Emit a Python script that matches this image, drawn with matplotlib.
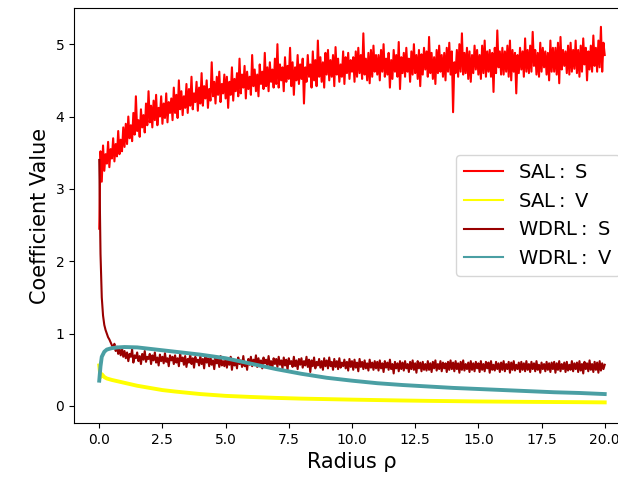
import numpy as np
import matplotlib.pyplot as plt

# radius grid of the noisy S curves (step 0.05)
rho_s = np.round(np.arange(0, 20.001, 0.05), 2)
# radius grid of the smooth V curves
rho_v = [0, 0.05, 0.1, 0.2, 0.3, 0.5, 0.75, 1, 1.5, 2, 2.5, 3, 4, 5, 6, 7,
         8, 9, 10, 11, 12, 13, 14, 15, 16, 17, 18, 19, 20]

# one row = one unit of radius
sal_s = [2.45, 3.52, 3.10, 3.60, 3.25, 3.48, 3.35, 3.65, 3.30, 3.55, 3.42, 3.70, 3.38, 3.62, 3.45, 3.80, 3.48, 3.68, 3.52, 3.85,
         3.58, 3.90, 3.62, 4.00, 3.70, 3.88, 3.66, 4.05, 3.75, 4.28, 3.80, 3.95, 3.72, 4.10, 3.85, 4.02, 3.78, 4.18, 3.88, 4.35,
         3.92, 4.15, 3.85, 4.22, 3.95, 4.30, 3.88, 4.12, 4.00, 4.28, 3.90, 4.18, 3.98, 4.32, 3.92, 4.20, 4.05, 4.25, 3.95, 4.40,
         4.05, 4.30, 3.98, 4.50, 4.10, 4.35, 4.02, 4.28, 4.12, 4.45, 4.05, 4.38, 4.15, 4.55, 4.10, 4.32, 4.20, 4.48, 4.08, 4.40,
         4.18, 4.60, 4.15, 4.42, 4.25, 4.50, 4.12, 4.38, 4.22, 4.75, 4.28, 4.48, 4.18, 4.55, 4.30, 4.62, 4.20, 4.45, 4.32, 4.58,
         4.25, 4.55, 4.12, 4.48, 4.30, 4.68, 4.22, 4.52, 4.35, 4.60, 4.28, 4.80, 4.32, 4.58, 4.40, 4.70, 4.25, 4.62, 4.38, 4.55,
         4.30, 4.85, 4.42, 4.65, 4.35, 4.58, 4.28, 4.72, 4.45, 4.62, 4.38, 4.88, 4.42, 4.68, 4.35, 4.75, 4.48, 4.65, 4.40, 4.80,
         4.45, 5.00, 4.40, 4.72, 4.50, 4.68, 4.35, 4.82, 4.48, 4.70, 4.52, 4.95, 4.42, 4.75, 4.30, 4.68, 4.50, 4.85, 4.45, 4.72,
         4.52, 4.80, 4.18, 4.68, 4.48, 4.85, 4.55, 4.72, 4.40, 4.90, 4.50, 4.78, 4.42, 5.05, 4.55, 4.82, 4.48, 4.75, 4.40, 4.88,
         4.58, 4.92, 4.50, 4.78, 4.55, 4.85, 4.42, 4.96, 4.58, 4.80, 4.48, 4.72, 4.55, 4.90, 4.45, 4.82, 4.60, 4.88, 4.52, 4.78,
         4.62, 4.82, 4.48, 4.90, 4.55, 4.95, 4.60, 4.85, 4.52, 5.15, 4.58, 4.80, 4.50, 4.88, 4.46, 4.92, 4.55, 4.98, 4.62, 4.85,
         4.58, 4.85, 4.50, 4.92, 4.62, 5.00, 4.55, 4.80, 4.58, 4.88, 4.40, 4.78, 4.52, 4.92, 4.62, 4.85, 4.55, 5.03, 4.38, 4.82,
         4.60, 4.88, 4.55, 4.95, 4.62, 4.80, 4.48, 4.90, 4.58, 5.00, 4.60, 4.85, 4.52, 4.92, 4.42, 4.86, 4.58, 4.95, 4.65, 4.90,
         4.55, 5.10, 4.60, 4.88, 4.52, 4.82, 4.45, 4.92, 4.60, 4.98, 4.62, 4.85, 4.55, 4.88, 4.50, 4.95, 4.62, 5.02, 4.58, 4.90,
         4.06, 4.75, 4.60, 4.92, 4.55, 5.00, 4.62, 5.15, 4.58, 4.88, 4.60, 4.95, 4.52, 4.90, 4.48, 4.85, 4.60, 4.98, 4.65, 4.92,
         4.58, 4.85, 4.52, 4.98, 4.60, 5.05, 4.55, 4.90, 4.62, 4.92, 4.55, 4.88, 4.34, 4.95, 4.60, 5.19, 4.68, 4.90, 4.58, 4.95,
         4.58, 4.90, 4.62, 4.98, 4.55, 5.05, 4.50, 4.92, 4.62, 4.88, 4.32, 4.85, 4.60, 4.95, 4.65, 4.90, 4.55, 5.08, 4.62, 4.92,
         4.60, 4.98, 4.62, 5.17, 4.70, 4.92, 4.58, 4.88, 4.55, 5.02, 4.62, 4.95, 4.68, 4.90, 4.58, 4.88, 4.50, 5.05, 4.62, 4.95,
         4.62, 4.95, 4.58, 5.02, 4.46, 5.10, 4.65, 4.92, 4.70, 4.90, 4.60, 4.98, 4.58, 5.02, 4.62, 4.92, 4.66, 5.05, 4.60, 4.92,
         4.55, 4.98, 4.62, 5.08, 4.72, 4.95, 4.50, 4.90, 4.65, 4.98, 4.62, 5.12, 4.70, 4.95, 4.62, 5.05, 4.68, 5.24, 4.62, 5.02,
         4.85]

wdrl_s = [3.40, 2.10, 1.50, 1.25, 1.12, 1.05, 1.00, 0.95, 0.92, 0.88, 0.84, 0.80, 0.86, 0.76, 0.82, 0.72, 0.78, 0.70, 0.80, 0.68,
          0.76, 0.66, 0.74, 0.62, 0.72, 0.68, 0.78, 0.60, 0.70, 0.66, 0.74, 0.62, 0.69, 0.58, 0.72, 0.64, 0.76, 0.61, 0.68, 0.65,
          0.72, 0.58, 0.70, 0.63, 0.74, 0.60, 0.67, 0.56, 0.71, 0.62, 0.68, 0.59, 0.73, 0.61, 0.66, 0.55, 0.70, 0.63, 0.68, 0.58,
          0.70, 0.60, 0.66, 0.55, 0.72, 0.62, 0.67, 0.57, 0.69, 0.54, 0.65, 0.60, 0.71, 0.58, 0.66, 0.53, 0.68, 0.61, 0.64, 0.56,
          0.69, 0.58, 0.65, 0.52, 0.70, 0.60, 0.66, 0.55, 0.68, 0.57, 0.63, 0.51, 0.67, 0.59, 0.64, 0.54, 0.69, 0.56, 0.62, 0.55,
          0.66, 0.53, 0.63, 0.57, 0.68, 0.50, 0.64, 0.56, 0.62, 0.52, 0.67, 0.58, 0.63, 0.54, 0.69, 0.55, 0.61, 0.50, 0.65, 0.57,
          0.68, 0.55, 0.64, 0.58, 0.70, 0.54, 0.66, 0.57, 0.63, 0.52, 0.67, 0.59, 0.64, 0.55, 0.69, 0.56, 0.62, 0.53, 0.66, 0.58,
          0.65, 0.54, 0.68, 0.57, 0.63, 0.52, 0.67, 0.56, 0.64, 0.50, 0.66, 0.58, 0.62, 0.54, 0.68, 0.55, 0.63, 0.51, 0.65, 0.57,
          0.66, 0.53, 0.62, 0.56, 0.68, 0.54, 0.64, 0.47, 0.63, 0.55, 0.67, 0.52, 0.61, 0.56, 0.65, 0.53, 0.62, 0.50, 0.66, 0.55,
          0.63, 0.52, 0.67, 0.55, 0.61, 0.50, 0.65, 0.54, 0.62, 0.51, 0.66, 0.53, 0.60, 0.55, 0.64, 0.52, 0.61, 0.49, 0.65, 0.54,
          0.62, 0.50, 0.64, 0.53, 0.60, 0.48, 0.65, 0.54, 0.61, 0.51, 0.63, 0.52, 0.59, 0.49, 0.64, 0.53, 0.60, 0.50, 0.62, 0.52,
          0.61, 0.49, 0.63, 0.52, 0.59, 0.47, 0.62, 0.53, 0.60, 0.50, 0.64, 0.51, 0.58, 0.45, 0.61, 0.52, 0.59, 0.48, 0.62, 0.51,
          0.60, 0.49, 0.62, 0.52, 0.58, 0.47, 0.61, 0.51, 0.63, 0.50, 0.59, 0.46, 0.62, 0.52, 0.60, 0.48, 0.61, 0.50, 0.58, 0.49,
          0.62, 0.50, 0.59, 0.47, 0.61, 0.52, 0.63, 0.49, 0.58, 0.51, 0.62, 0.48, 0.60, 0.52, 0.59, 0.47, 0.61, 0.50, 0.63, 0.51,
          0.60, 0.48, 0.62, 0.51, 0.59, 0.46, 0.61, 0.50, 0.63, 0.49, 0.58, 0.51, 0.60, 0.47, 0.62, 0.50, 0.59, 0.48, 0.61, 0.52,
          0.59, 0.47, 0.62, 0.50, 0.58, 0.48, 0.61, 0.52, 0.60, 0.46, 0.62, 0.50, 0.57, 0.49, 0.61, 0.51, 0.59, 0.47, 0.60, 0.50,
          0.62, 0.48, 0.58, 0.51, 0.61, 0.46, 0.60, 0.50, 0.62, 0.49, 0.57, 0.51, 0.60, 0.47, 0.61, 0.50, 0.59, 0.48, 0.62, 0.50,
          0.58, 0.47, 0.61, 0.51, 0.59, 0.48, 0.62, 0.50, 0.57, 0.46, 0.60, 0.51, 0.58, 0.48, 0.61, 0.50, 0.59, 0.47, 0.60, 0.51,
          0.61, 0.46, 0.59, 0.50, 0.62, 0.48, 0.58, 0.51, 0.60, 0.47, 0.61, 0.49, 0.57, 0.50, 0.62, 0.48, 0.59, 0.51, 0.60, 0.47,
          0.62, 0.49, 0.58, 0.45, 0.61, 0.51, 0.59, 0.48, 0.63, 0.50, 0.58, 0.47, 0.61, 0.50, 0.60, 0.46, 0.62, 0.49, 0.59, 0.51,
          0.57]

sal_v = [0.56, 0.40, 0.44, 0.40, 0.38, 0.36, 0.34, 0.32, 0.28, 0.25, 0.22,
         0.20, 0.165, 0.14, 0.125, 0.112, 0.102, 0.095, 0.088, 0.082, 0.076,
         0.071, 0.067, 0.063, 0.06, 0.057, 0.055, 0.053, 0.05]

wdrl_v = [0.35, 0.55, 0.68, 0.75, 0.78, 0.80, 0.81, 0.815, 0.81, 0.79, 0.77,
          0.75, 0.71, 0.66, 0.585, 0.51, 0.445, 0.39, 0.35, 0.315, 0.29,
          0.27, 0.25, 0.235, 0.22, 0.205, 0.19, 0.18, 0.165]

labels = ['SAL$:$ S', 'SAL$:$ V', 'WDRL$:$ S', 'WDRL$:$ V']
colors = ['#ff0000', '#ffff00', '#990000', '#4a9fa3']

fig = plt.figure(figsize=(6.18, 4.79), dpi=100)
# axes run past the right edge, as in the cropped original
ax = fig.add_axes([0.1197, 0.1169, 0.8997, 0.8664])

ax.plot(rho_s, sal_s, color=colors[0], lw=1.5, label=labels[0])
ax.plot(rho_v, sal_v, color=colors[1], lw=2.8, label=labels[1])
ax.plot(rho_s, wdrl_s, color=colors[2], lw=1.5, label=labels[2])
ax.plot(rho_v, wdrl_v, color=colors[3], lw=2.8, label=labels[3])

ax.set_xlim(-1, 21)
ax.set_ylim(-0.235, 5.5)
ax.set_xticks([0, 2.5, 5, 7.5, 10, 12.5, 15, 17.5, 20])
ax.set_xlabel('Radius ρ', fontsize=15)
ax.set_ylabel('Coefficient Value', fontsize=15)

leg = ax.legend(loc='center right', fontsize=14)
for h in leg.get_lines():
    h.set_linewidth(1.5)

fig.savefig('out.png', dpi=100)
